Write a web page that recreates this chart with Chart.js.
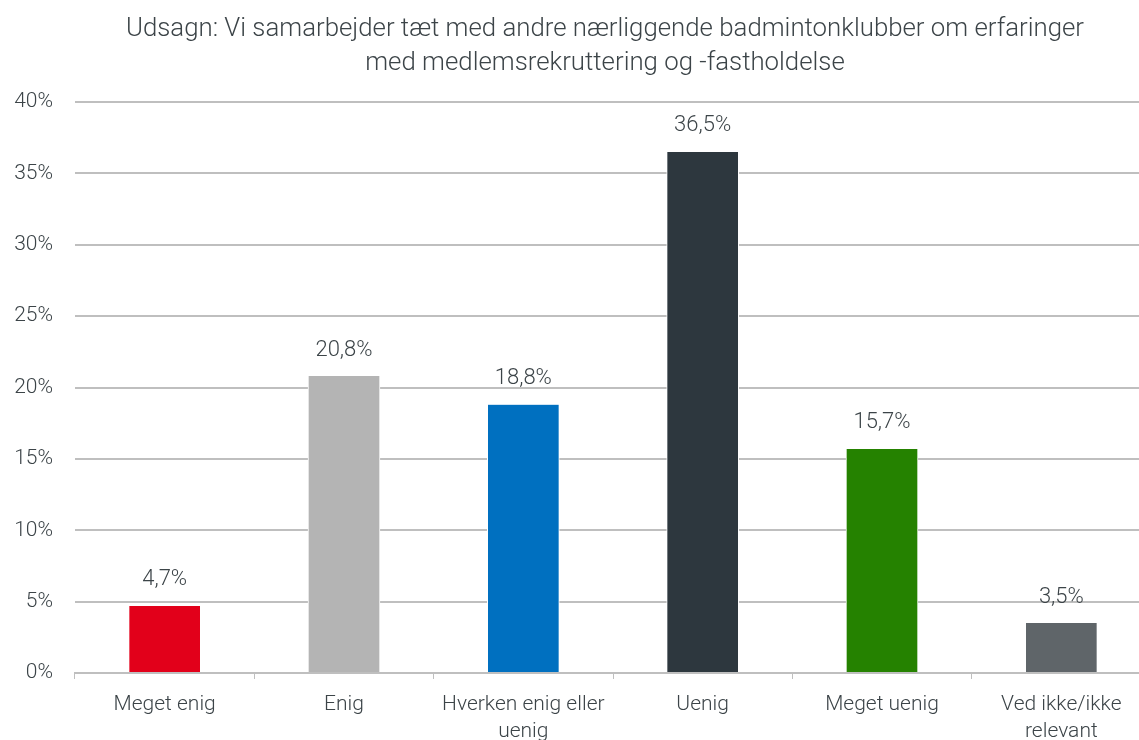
<!DOCTYPE html>
<html>
<head>
<meta charset="utf-8">
<script src="https://cdn.jsdelivr.net/npm/chart.js@4/dist/chart.umd.min.js"></script>
<style>
html,body{margin:0;padding:0;overflow:hidden;background:#fff;}
#wrap{width:1210px;height:740px;position:relative;}
</style>
</head>
<body>
<div id="wrap"><canvas id="c" width="1210" height="740"></canvas></div>
<script>
const titleLines = ["Udsagn: Vi samarbejder tæt med andre nærliggende badmintonklubber om erfaringer", "med medlemsrekruttering og -fastholdelse"];
const categories = ["Meget enig", "Enig", ["Hverken enig eller", "uenig"], "Uenig", "Meget uenig", ["Ved ikke/ikke", "relevant"]];
const values = [4.7, 20.8, 18.8, 36.5, 15.7, 3.5];
const barColors = ["#e2001a", "#b4b4b4", "#0070c0", "#2d373e", "#258200", "#5f6569"];
const yTicks = [0, 5, 10, 15, 20, 25, 30, 35, 40];

const textColor = "#3c4448";
const fontFamily = "Roboto, 'DejaVu Sans', sans-serif";

const labelPlugin = {
  id: 'valueLabels',
  afterDatasetsDraw(chart) {
    const ctx = chart.ctx;
    const meta = chart.getDatasetMeta(0);
    ctx.save();
    ctx.font = "300 22px " + fontFamily;
    ctx.fillStyle = textColor;
    ctx.textAlign = 'center';
    ctx.textBaseline = 'middle';
    meta.data.forEach((bar, i) => {
      const txt = values[i].toFixed(1).replace('.', ',') + '%';
      ctx.fillText(txt, bar.x, bar.y - 26);
    });
    ctx.restore();
  }
};

const titlePlugin = {
  id: 'centerTitle',
  afterDraw(chart) {
    const ctx = chart.ctx;
    ctx.save();
    ctx.font = "300 25.8px " + fontFamily;
    ctx.fillStyle = textColor;
    ctx.textAlign = 'center';
    ctx.textBaseline = 'middle';
    titleLines.forEach((line, i) => ctx.fillText(line, 605, 30 + i * 34));
    ctx.restore();
  }
};

new Chart(document.getElementById('c'), {
  type: 'bar',
  data: {
    labels: categories,
    datasets: [{
      data: values,
      backgroundColor: barColors,
      borderColor: '#ffffff',
      borderWidth: {left: 1, right: 1, top: 0, bottom: 0},
      barThickness: 72,
      borderSkipped: 'bottom'
    }]
  },
  options: {
    responsive: false,
    animation: false,
    layout: { padding: { left: 0, right: 59, top: 102, bottom: 0 } },
    plugins: {
      legend: { display: false },
      tooltip: { enabled: false },
      title: { display: false }
    },
    scales: {
      x: {
        grid: { display: true, drawOnChartArea: false, drawTicks: true, tickLength: 6, offset: true, color: '#bfbfbf', lineWidth: 1 },
        border: { display: true, color: '#bfbfbf', width: 2 },
        ticks: { color: textColor, font: { family: fontFamily, size: 21, weight: 300, lineHeight: 1.29 }, padding: 12, maxRotation: 0, autoSkip: false },
        afterFit(s) { s.height = 67; }
      },
      y: {
        min: 0, max: 40,
        afterBuildTicks(s) { s.ticks = yTicks.map(v => ({ value: v })); },
        grid: { color: '#bfbfbf', lineWidth: 2, drawTicks: false },
        border: { display: false },
        ticks: { color: textColor, font: { family: fontFamily, size: 21, weight: 300 }, padding: 22, callback: v => v + '%' },
        afterFit(s) { s.width = 75; }
      }
    }
  },
  plugins: [labelPlugin, titlePlugin]
});
</script>
</body>
</html>
